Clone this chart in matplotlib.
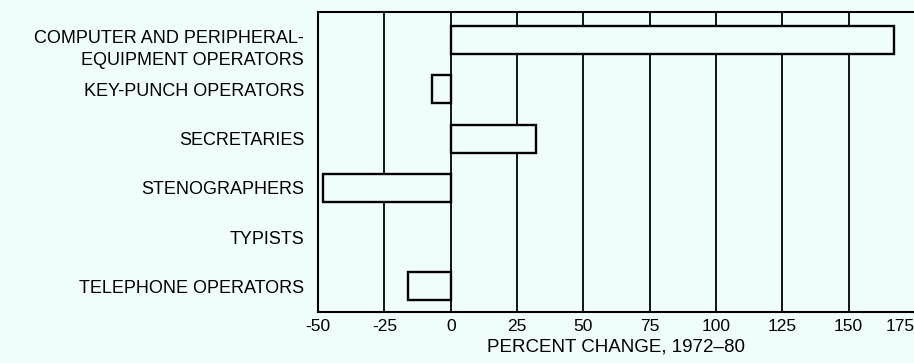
#!/usr/bin/env python3
"""
Percent change in employment, 1972-80, for office occupations.
Horizontal bars (scanned-report look), grid lines at every 25 %.
"""
import matplotlib
matplotlib.use("Agg")
import matplotlib.pyplot as plt
from matplotlib.transforms import ScaledTranslation

# data
OCCUPATIONS = [
    "COMPUTER AND PERIPHERAL-\nEQUIPMENT OPERATORS",
    "KEY-PUNCH OPERATORS",
    "SECRETARIES",
    "STENOGRAPHERS",
    "TYPISTS",
    "TELEPHONE OPERATORS",
]
PCT_CHANGE = [167, -7, 32, -48, 0, -16]
XTICKS = [-50, -25, 0, 25, 50, 75, 100, 125, 150, 175]
XLABEL = "PERCENT CHANGE, 1972–80"

BG = "#f0fdfd"
FONT = "Liberation Sans"


def shift(artist, fig, dx_px, dy_px):
    artist.set_transform(artist.get_transform()
                         + ScaledTranslation(dx_px / 100, dy_px / 100,
                                             fig.dpi_scale_trans))


def main():
    fig = plt.figure(figsize=(9.14, 3.63), dpi=100, facecolor=BG)
    ax = fig.add_axes([0.348, 0.1405, 0.653, 0.826], facecolor=BG)

    ypos = list(range(len(OCCUPATIONS)))
    # a zero change gets no outline (nothing drawn in the original)
    lws = [0 if v == 0 else 1.7 for v in PCT_CHANGE]
    ax.barh(ypos, PCT_CHANGE, height=0.57, color=BG, edgecolor="black",
            linewidth=lws, zorder=3)

    ax.set_xlim(-50, 175)
    ax.set_ylim(5.52, -0.57)

    ax.set_xticks(XTICKS)
    ax.set_xticklabels([str(t) for t in XTICKS], fontsize=12.5, family=FONT)
    last = ax.xaxis.get_ticklabels()[-1]
    last.set_ha("right")
    shift(last, fig, -4, 0)      # 175 squeezed in at the page edge
    ax.set_yticks(ypos)
    ax.set_yticklabels(OCCUPATIONS, fontsize=13, family=FONT,
                       linespacing=1.38)
    ax.tick_params(axis="both", length=0, colors="black")
    ax.tick_params(axis="y", pad=10)
    ax.tick_params(axis="x", pad=5)

    # two-line label sits a bit lower than its bar in the original
    shift(ax.yaxis.get_ticklabels()[0], fig, 0, -5)

    # vertical rules at every tick (the -50 one is the left spine)
    for x in XTICKS[1:]:
        ax.axvline(x, color="black", linewidth=1.3, zorder=2, snap=True)

    for side in ("left", "bottom", "top"):
        ax.spines[side].set_linewidth(1.5)
    ax.spines["right"].set_visible(False)

    ax.set_xlabel(XLABEL, fontsize=13.5, family=FONT, labelpad=3)

    fig.savefig("out.png", dpi=100, facecolor=BG)


if __name__ == "__main__":
    main()
